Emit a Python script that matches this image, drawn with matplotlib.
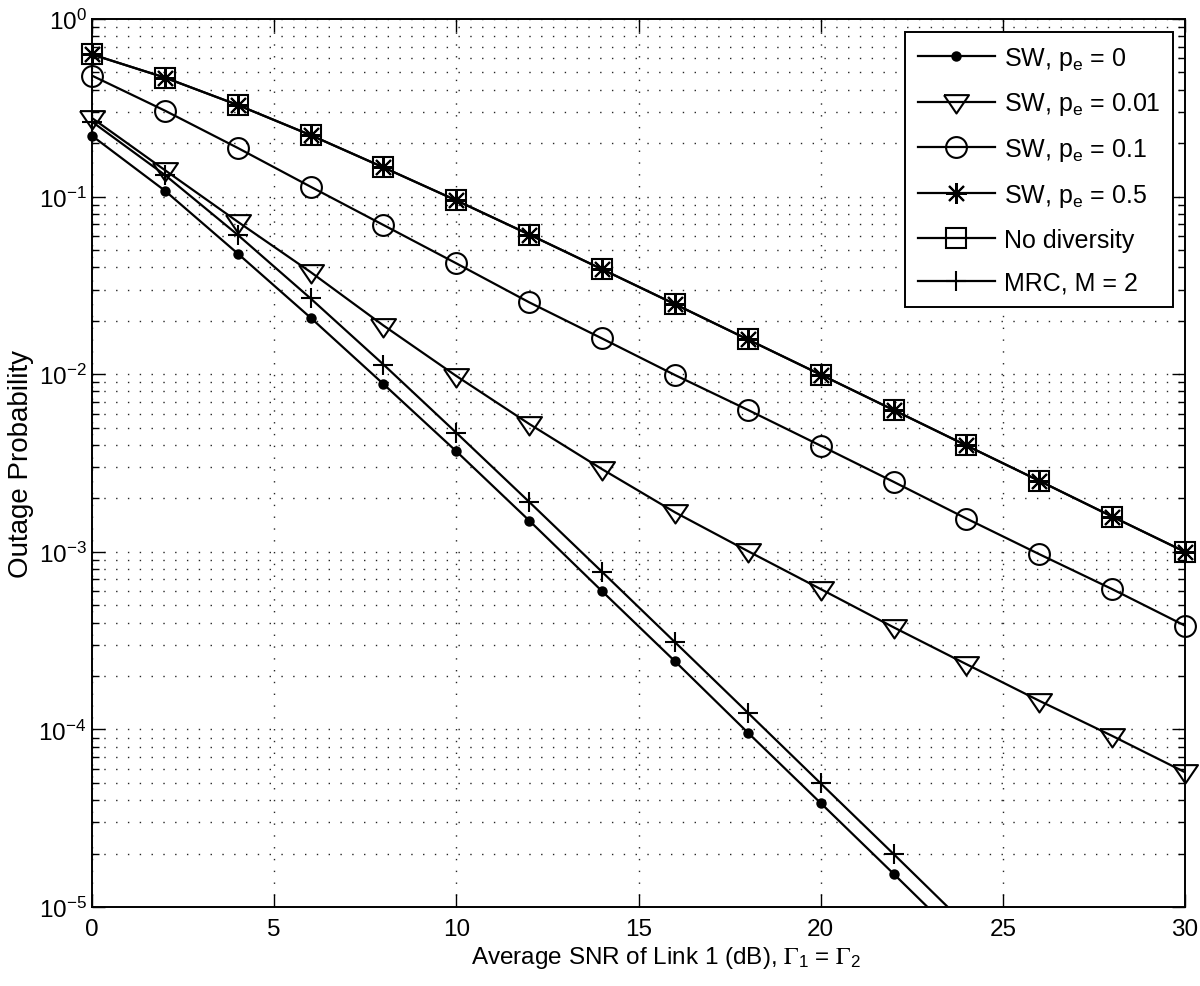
import numpy as np
import matplotlib.pyplot as plt
from matplotlib.lines import Line2D
from matplotlib.ticker import LogLocator, NullFormatter, FixedLocator

plt.rcParams['font.family'] = ['Liberation Sans', 'DejaVu Sans']
plt.rcParams['mathtext.fontset'] = 'stix'
plt.rcParams['mathtext.default'] = 'regular'

# average SNR (dB)
snr_db = [0, 2, 4, 6, 8, 10, 12, 14, 16, 18, 20, 22, 24, 26, 28, 30]

# outage probabilities
sw_pe0 = [0.22, 0.108, 0.0478, 0.0208, 0.0088, 0.00368, 0.00150, 6.0e-4,
          2.42e-4, 9.6e-5, 3.85e-5, 1.54e-5, 6.1e-6, 2.4e-6, 9.7e-7, 3.9e-7]
sw_pe001 = [0.277, 0.141, 0.0722, 0.0376, 0.0188, 0.00977, 0.00525, 0.00292,
            0.00167, 0.00101, 6.17e-4, 3.76e-4, 2.33e-4, 1.45e-4, 9.2e-5, 5.74e-5]
sw_pe01 = [0.48, 0.305, 0.188, 0.1137, 0.0692, 0.0421, 0.0254, 0.0159,
           0.0099, 0.0063, 0.00396, 0.00248, 0.00154, 9.7e-4, 6.17e-4, 3.84e-4]
sw_pe05 = [0.632, 0.468, 0.328, 0.222, 0.146, 0.0952, 0.0612, 0.0390,
           0.0248, 0.0157, 0.00995, 0.00629, 0.00397, 0.00251, 0.00158, 0.0010]
no_div = [0.632, 0.468, 0.328, 0.222, 0.146, 0.0952, 0.0612, 0.0390,
          0.0248, 0.0157, 0.00995, 0.00629, 0.00397, 0.00251, 0.00158, 0.0010]
mrc_m2 = [0.264, 0.1324, 0.0609, 0.0267, 0.01134, 0.00468, 0.00191, 7.71e-4,
          3.10e-4, 1.243e-4, 4.97e-5, 1.99e-5, 7.9e-6, 3.1e-6, 1.25e-6, 5.0e-7]

labels = ['SW, p$_e$ = 0', 'SW, p$_e$ = 0.01', 'SW, p$_e$ = 0.1',
          'SW, p$_e$ = 0.5', 'No diversity', 'MRC, M = 2']

ymin, ymax = 1e-5, 1

# wide, flat MATLAB-style down triangle
tri = [(-1, 0.59), (1, 0.59), (0, -0.88), (-1, 0.59)]

series = [sw_pe0, sw_pe001, sw_pe01, sw_pe05, no_div, mrc_m2]
styles = [dict(marker='o', ms=6, mfc='k'),
          dict(marker=tri, ms=18, mfc='none'),
          dict(marker='o', ms=15, mfc='none'),
          dict(marker=(8, 2, 0), ms=15),
          dict(marker='s', ms=14, mfc='none'),
          dict(marker='+', ms=15)]

fig = plt.figure(figsize=(12, 9.87), dpi=100)
ax = fig.add_axes([0.0767, 0.080, 0.9108, 0.8997])

lw = 1.6
mew = 1.5
handles = []
for y, st, lab in zip(series, styles, labels):
    y = np.array(y)
    ax.plot(snr_db, y, 'k-', lw=lw)
    # markers are not clipped at the axes edges (MATLAB look), but points
    # outside the y-range are dropped
    ym = np.ma.masked_less(y, ymin)
    ax.plot(snr_db, ym, linestyle='none', color='k', mec='k', mew=mew,
            clip_on=False, zorder=3, **st)
    handles.append(Line2D([], [], color='k', lw=lw, mec='k', mew=mew, **st))

ax.set_yscale('log')
ax.set_xlim(0, 30)
ax.set_ylim(ymin, ymax)
ax.xaxis.set_major_locator(FixedLocator([0, 5, 10, 15, 20, 25, 30]))
ax.yaxis.set_major_locator(LogLocator(base=10, numticks=10))
ax.yaxis.set_minor_locator(LogLocator(base=10, subs=np.arange(2, 10), numticks=10))
ax.yaxis.set_minor_formatter(NullFormatter())

dots = (0, (1, 7.5))
ax.grid(True, which='major', linestyle=dots, color='0.15', lw=1.0)
ax.grid(True, which='minor', axis='y', linestyle=dots, color='0.15', lw=1.0)

ax.tick_params(which='both', direction='in', top=True, right=True, labelsize=17.5, width=1)
ax.tick_params(which='major', length=9.5)
ax.tick_params(which='minor', length=5)
ax.tick_params(axis='x', pad=8)
ax.tick_params(axis='y', pad=4)
for s in ax.spines.values():
    s.set_linewidth(1.4)

ax.set_xlabel(r'Average SNR of Link 1 (dB), $\mathrm{\Gamma}_1$ = $\mathrm{\Gamma}_2$', fontsize=17.5)
ax.set_ylabel('Outage Probability', fontsize=20)
ax.xaxis.set_label_coords(0.525, -0.042)
ax.yaxis.set_label_coords(-0.053, 0.5)

leg = ax.legend(handles, labels, loc='upper right', bbox_to_anchor=(0.989, 0.9854),
                fontsize=18, fancybox=False, edgecolor='k', framealpha=1,
                borderaxespad=0, borderpad=0.5, handlelength=3.1,
                labelspacing=0.75, handletextpad=0.35)
leg.get_frame().set_linewidth(1.4)

fig.savefig('out.png', dpi=100)
